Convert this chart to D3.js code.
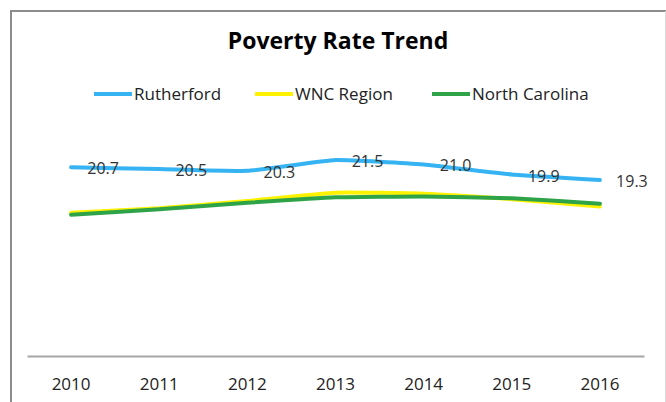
<!DOCTYPE html>
<html>
<head>
<meta charset="utf-8">
<script src="https://cdn.jsdelivr.net/npm/d3@7"></script>
<style>
body { margin:0; background:#fff; }
svg { display:block; font-family:"Open Sans", sans-serif; }
</style>
</head>
<body>
<svg id="chart"></svg>
<script>
// chart data
var years = ["2010","2011","2012","2013","2014","2015","2016"];
var rutherford = [20.7, 20.5, 20.3, 21.5, 21.0, 19.9, 19.3];
var wncRegion = [15.7, 16.2, 17.0, 17.9, 17.8, 17.2, 16.4];
var northCarolina = [15.5, 16.1, 16.8, 17.4, 17.5, 17.3, 16.7];
var seriesNames = ["Rutherford", "WNC Region", "North Carolina"];

var screen = {width:666, height:402};
var colors = ["#36b3f2", "#fff200", "#2fa347"];

var svg = d3.select("#chart")
    .attr("width", screen.width)
    .attr("height", screen.height);

// frame
svg.append("path")
    .attr("d", "M11,402V11H666")
    .attr("fill", "none")
    .attr("stroke", "#8c8c8c")
    .attr("stroke-width", 2);
svg.append("line")
    .attr("x1", 665.5).attr("x2", 665.5)
    .attr("y1", 11).attr("y2", 402)
    .attr("stroke", "#d9d9d9")
    .attr("stroke-width", 1);

// title
svg.append("text")
    .text("Poverty Rate Trend")
    .attr("x", 338)
    .attr("y", 49)
    .attr("text-anchor", "middle")
    .attr("font-size", 23)
    .attr("font-weight", "bold")
    .attr("fill", "#000");

// scales
var xScale = d3.scaleBand()
    .domain(years)
    .range([27, 644]);

var yScale = d3.scaleLinear()
    .domain([0, 25])
    .range([356, 128]);

var xPos = function(year) { return xScale(year) + xScale.bandwidth()/2; };

// x axis
var xAxis = d3.axisBottom(xScale).tickSize(0).tickPadding(0);
var axis = svg.append("g")
    .attr("transform", "translate(0,356)")
    .call(xAxis);
axis.select(".domain")
    .attr("stroke", "#a6a6a6")
    .attr("stroke-width", 2);
axis.selectAll("text")
    .attr("dy", null)
    .attr("y", 34)
    .attr("font-family", "Open Sans, sans-serif")
    .attr("font-size", 17)
    .attr("fill", "#222");

// lines
var allSeries = [wncRegion, northCarolina, rutherford];
var allColors = [colors[1], colors[2], colors[0]];

var line = d3.line()
    .x(function(d, i) { return xPos(years[i]); })
    .y(function(d) { return yScale(d); })
    .curve(d3.curveCardinal.tension(0.6));

svg.append("g")
    .selectAll("path")
    .data(allSeries)
    .enter()
    .append("path")
    .attr("d", line)
    .attr("fill", "none")
    .attr("stroke", function(d, i) { return allColors[i]; })
    .attr("stroke-width", 4)
    .attr("stroke-linecap", "round");

// data labels for Rutherford
svg.append("g")
    .selectAll("text")
    .data(rutherford)
    .enter()
    .append("text")
    .text(function(d) { return d.toFixed(1); })
    .attr("x", function(d, i) { return xPos(years[i]) + 32; })
    .attr("y", function(d) { return yScale(d) + 7; })
    .attr("text-anchor", "middle")
    .attr("font-size", 16)
    .attr("fill", "#333");

// legend
var legendX = [94, 255, 432];
var legend = svg.append("g")
    .attr("transform", "translate(0,94)");
var entries = legend.selectAll("g")
    .data(seriesNames)
    .enter()
    .append("g")
    .attr("transform", function(d, i) { return "translate(" + legendX[i] + ",0)"; });
entries.append("line")
    .attr("x1", 0).attr("x2", 38)
    .attr("y1", 0).attr("y2", 0)
    .attr("stroke", function(d, i) { return colors[i]; })
    .attr("stroke-width", 4);
entries.append("text")
    .text(function(d) { return d; })
    .attr("x", 40)
    .attr("y", 6)
    .attr("font-size", 17)
    .attr("fill", "#222");
</script>
</body>
</html>
